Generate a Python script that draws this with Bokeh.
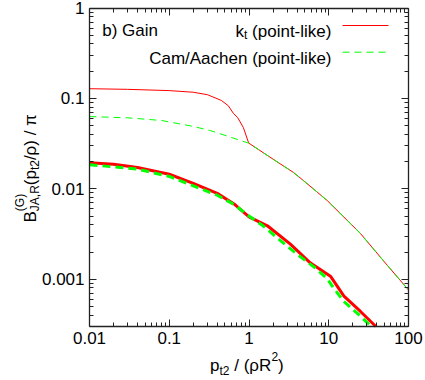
import math
from bokeh.plotting import figure
from bokeh.models import LogAxis, FixedTicker, CustomJSTickFormatter, Label, Range1d
from bokeh.embed import file_html
from bokeh.resources import INLINE

# ---------------- data ----------------
kt_thin_x = [0.01, 0.03, 0.1, 0.2, 0.3, 0.45, 0.55, 0.64, 0.72, 0.85, 0.98,
             1.0, 2.0, 3.6, 5.0, 9.6, 25.0, 50.0, 100.0]
kt_thin_y = [0.128, 0.126, 0.122, 0.117, 0.110, 0.095, 0.083, 0.068, 0.0615, 0.0476, 0.033,
             0.0319, 0.0213, 0.0152, 0.0120, 0.0074, 0.0032, 0.00155, 0.00076]

ca_thin_x = [0.01, 0.03, 0.08, 0.2, 0.33, 0.6, 1.0, 2.0, 3.6, 5.0, 9.6, 25.0, 50.0, 100.0]
ca_thin_y = [0.063, 0.061, 0.057, 0.049, 0.044, 0.037, 0.0319, 0.0213, 0.0152, 0.0120,
             0.0074, 0.0032, 0.00155, 0.00076]

kt_thick_x = [0.01, 0.02, 0.04, 0.1, 0.2, 0.4, 0.65, 1.0, 1.7, 3.3, 5.9, 10.5, 15.5, 25.0, 39.0]
kt_thick_y = [0.0194, 0.0187, 0.0172, 0.0145, 0.0115, 0.0089, 0.0068, 0.0049, 0.0039,
              0.00244, 0.00151, 0.00108, 0.00065, 0.00044, 0.0003]

ca_thick_x = [0.01, 0.04, 0.1, 0.2, 0.4, 0.65, 1.0, 1.5, 2.25, 4.0, 6.8, 9.6, 11.5, 15.4, 25.0, 34.0]
ca_thick_y = [0.0185, 0.0165, 0.0137, 0.0108, 0.0085, 0.0067, 0.0050, 0.0039, 0.00287,
              0.00189, 0.00133, 0.00101, 0.00080, 0.00057, 0.00039, 0.0003]

x_ticks = [0.01, 0.1, 1, 10, 100]
y_ticks = [0.001, 0.01, 0.1, 1]
x_box = (0.01, 100)       # plotted x interval
y_box = (0.0003, 1)       # plotted y interval

legend_labels = ["k", "Cam/Aachen (point-like)"]
panel_label = "b) Gain"

FONT = "Liberation Sans"
RED = "#ff0000"
GREEN = "#00ff00"
AXC = "#222222"

x_minor = [k * 10.0 ** e for e in range(-2, 2) for k in range(2, 10)]
y_minor = [k * 10.0 ** e for e in range(-4, 0) for k in range(2, 10) if k * 10.0 ** e >= y_box[0]]

# ---------------- layout geometry (pixels) ----------------
W, H = 424, 378
BOX_L, BOX_R, BOX_T, BOX_B = 89.0, 408.0, 7.5, 326.0
LX0, LX1 = math.log10(x_box[0]), math.log10(x_box[1])
LY0, LY1 = math.log10(y_box[0]), math.log10(y_box[1])
PPX = (BOX_R - BOX_L) / (LX1 - LX0)
PPY = (BOX_B - BOX_T) / (LY1 - LY0)
xr = (10 ** (LX0 - BOX_L / PPX), 10 ** (LX1 + (W - BOX_R) / PPX))
yr = (10 ** (LY0 - (H - BOX_B) / PPY), 10 ** (LY1 + BOX_T / PPY))


def dx(px):
    return 10 ** (LX0 + (px - BOX_L) / PPX)


def dy(py):
    return 10 ** (LY0 + (BOX_B - py) / PPY)


# ---------------- figure ----------------
p = figure(width=W, height=H, x_axis_type="log", y_axis_type="log",
           x_range=Range1d(*xr), y_range=Range1d(*yr),
           output_backend="svg", toolbar_location=None,
           min_border=0, min_border_left=0, min_border_right=0,
           min_border_top=0, min_border_bottom=0)
p.title.visible = False
p.grid.visible = False
p.outline_line_color = None
p.background_fill_color = "white"
p.border_fill_color = "white"


def style_axis(ax, ticks, minor, bounds, loc, labels=True):
    ax.ticker = FixedTicker(ticks=ticks, minor_ticks=minor)
    ax.bounds = bounds
    ax.fixed_location = loc
    ax.axis_line_color = AXC
    ax.axis_line_width = 1.3
    ax.major_tick_line_color = AXC
    ax.minor_tick_line_color = AXC
    ax.major_tick_in = 7
    ax.major_tick_out = 0
    ax.minor_tick_in = 4
    ax.minor_tick_out = 0
    ax.major_label_text_font = FONT
    ax.major_label_text_font_size = "17px"
    ax.major_label_text_color = "black"
    if labels:
        ax.formatter = CustomJSTickFormatter(code="return tick.toString();")
        ax.major_label_standoff = 5
    else:
        ax.formatter = CustomJSTickFormatter(code="return '';")
        ax.major_label_standoff = 0


style_axis(p.xaxis[0], x_ticks, x_minor, x_box, y_box[0])
style_axis(p.yaxis[0], y_ticks, y_minor, y_box, x_box[0])
ax_top = LogAxis()
style_axis(ax_top, x_ticks, x_minor, x_box, y_box[1], labels=False)
p.add_layout(ax_top, "above")
ax_right = LogAxis()
style_axis(ax_right, y_ticks, y_minor, y_box, x_box[1], labels=False)
p.add_layout(ax_right, "right")

# ---------------- curves ----------------
p.line(kt_thin_x, kt_thin_y, line_color=RED, line_width=1)
p.line(ca_thin_x, ca_thin_y, line_color=GREEN, line_width=1, line_dash="7 5")
p.line(kt_thick_x, kt_thick_y, line_color=RED, line_width=3)
p.line(ca_thick_x, ca_thick_y, line_color=GREEN, line_width=3, line_dash="8 5")


def txt(s, px, py, size=17, align="left", angle=0.0):
    p.add_layout(Label(x=dx(px), y=dy(py), text=s, text_font=FONT,
                       text_font_size=f"{size}px", text_align=align,
                       text_baseline="alphabetic", angle=angle, text_color="black"))


# panel label
txt(panel_label, 101.7, 29.5)

# legend
txt(legend_labels[0], 235.0, 30.5)
txt("t", 243.5, 34.5, size=12)
txt("(point-like)", 251.6, 30.5)
txt(legend_labels[1], 331.0, 58.0, align="right")
p.segment(x0=[dx(342)], y0=[dy(25.0)], x1=[dx(388)], y1=[dy(25.0)],
          line_color=RED, line_width=1)
p.segment(x0=[dx(342)], y0=[dy(51.7)], x1=[dx(388)], y1=[dy(51.7)],
          line_color=GREEN, line_width=1, line_dash="7 5")

# x axis label: p_t2 / (rho R^2)
txt("p", 209.5, 365)
txt("t2", 219.0, 370, size=12)
txt("/ (\u03c1R", 233.7, 365)
txt("2", 270.9, 356, size=12)
txt(")", 277.6, 365)

# y axis label (rotated): B^(G)_JA,R (p_t2/rho) / pi
A = math.pi / 2
BL = 30.0
txt("B", BL, 222.0, angle=A)
txt("(G)", BL - 11, 210.7, size=12, angle=A)
txt("JA,R", BL + 4, 210.7, size=12, angle=A)
txt("(p", BL, 184.7, angle=A)
txt("t2", BL + 4, 169.6, size=12, angle=A)
txt("/\u03c1) / \u03c0", BL, 159.6, angle=A)

open("out.html", "w").write(file_html(p, INLINE))
